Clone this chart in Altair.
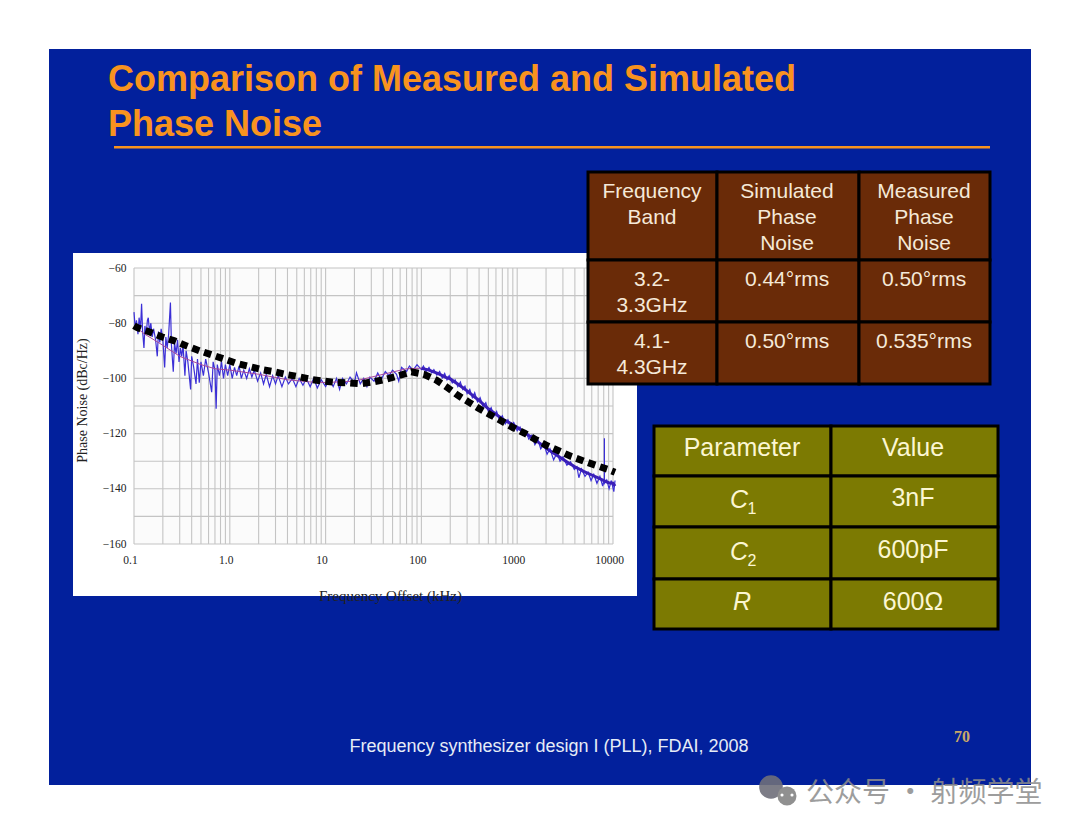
import altair as alt
import pandas as pd

# ---------- data ----------
grid_freq = [m * 10 ** e for e in range(-1, 4) for m in range(1, 10)] + [10000]
grid_db = [-60, -70, -80, -90, -100, -110, -120, -130, -140, -150, -160]
tick_freq = [0.1, 1, 10, 100, 1000, 10000]
tick_text = ["0.1", "1.0", "10", "100", "1000", "10000"]

sim_freq = [0.1, 0.108, 0.146, 0.197, 0.265, 0.358, 0.483, 0.651, 0.879, 1.19, 1.6, 2.16, 2.91, 3.93, 5.3, 7.15, 9.65,
            13, 17.6, 23.7, 32, 43.1, 58.2, 78.5, 106, 143, 185, 237, 309, 403, 525, 700, 912, 1202, 1585, 2089,
            2786, 3673, 4977, 6607, 8913, 10500]
sim_db = [-80.9, -81.6, -83.2, -85, -86.4, -88.3, -90, -91.5, -93, -94.6, -95.7, -96.8, -97.6, -98.6, -99.4, -100.4, -101,
          -101.5, -101.6, -101.9, -101.2, -100.3, -99, -97.6, -98.5, -100.6, -103.2, -106, -108.5, -111, -113.2, -115.6,
          -117.9, -119.9, -122.3, -124.5, -126.4, -128.3, -130, -131.5, -133, -134]

measured = [
    (0.100, -76), (0.103, -82), (0.106, -79), (0.110, -84), (0.113, -78), (0.117, -82), (0.120, -73), (0.123, -83),
    (0.127, -89), (0.130, -81), (0.134, -84), (0.138, -79), (0.141, -78), (0.145, -83), (0.150, -80), (0.155, -85),
    (0.160, -82), (0.168, -86), (0.175, -92), (0.180, -83), (0.186, -87), (0.192, -82), (0.200, -86), (0.209, -96),
    (0.215, -85), (0.222, -89), (0.230, -84), (0.240, -72.5), (0.246, -88), (0.257, -97.6), (0.265, -87), (0.275, -91),
    (0.285, -86), (0.295, -94), (0.305, -89), (0.315, -92), (0.325, -88), (0.340, -99), (0.350, -90), (0.365, -94),
    (0.390, -104), (0.400, -92), (0.420, -96), (0.444, -102), (0.460, -93), (0.480, -101.6), (0.500, -94), (0.530, -99),
    (0.560, -93), (0.600, -98), (0.647, -105), (0.670, -94), (0.700, -97), (0.720, -111), (0.740, -95), (0.780, -99),
    (0.820, -94), (0.860, -100), (0.900, -95), (0.950, -99), (1.00, -95), (1.06, -100), (1.12, -96), (1.18, -99),
    (1.25, -95.5), (1.32, -100), (1.40, -97), (1.5, -100), (1.6, -96.5), (1.7, -99.5), (1.8, -97), (1.95, -101),
    (2.1, -98), (2.25, -102), (2.4, -98.5), (2.6, -103), (2.8, -99), (3.0, -102), (3.2, -99), (3.5, -103), (3.8, -99.5),
    (4.1, -102), (4.5, -100), (4.9, -103), (5.3, -100), (5.8, -102.5), (6.3, -100), (6.9, -103), (7.5, -100), (8.2, -103.5),
    (9, -100.5), (10, -103), (11, -100.5), (12, -103), (13, -100), (14, -104), (15, -100), (16.5, -102), (18, -99.5),
    (20, -101.5), (21, -98), (23, -102), (25, -100), (27, -103), (29, -99.5), (32, -101), (35, -98), (38, -100.5),
    (42, -97.5), (46, -99), (50, -97), (55, -98.5), (58, -101), (62, -96), (70, -97.5), (75, -95.5), (82, -97), (90, -95),
    (100, -96.8), (105, -95.5), (112, -97.5), (120, -96), (128, -98), (135, -96.8), (145, -98.8), (155, -97.5), (165, -99.8),
    (175, -98.2), (185, -100.5), (195, -99), (210, -101.6), (225, -100.5), (240, -103), (255, -101.3), (270, -104),
    (285, -102.8), (300, -105.5), (320, -104), (340, -107), (360, -105.2), (385, -108.5), (410, -107), (440, -110.2),
    (470, -108.8), (500, -112), (535, -110.6), (570, -113.8), (610, -112), (650, -115), (700, -113.5), (750, -116.5),
    (800, -115), (860, -117.5), (920, -116), (1000, -119), (1070, -117.6), (1150, -120.5), (1230, -119), (1320, -122),
    (1420, -120.6), (1530, -124), (1640, -122), (1760, -125.5), (1900, -123.8), (2050, -127.5), (2200, -125.5), (2400, -129.5),
    (2600, -127), (2800, -130), (3000, -128.5), (3300, -131.5), (3600, -130.2), (3950, -133), (4200, -132), (4400, -136),
    (4700, -132.8), (5100, -135.5), (5500, -134), (5900, -137), (6300, -134.8), (6800, -138), (7300, -135.5), (7800, -139),
    (8128, -136), (8128, -121.7), (8140, -138), (8600, -136.8), (9100, -140), (9600, -137), (10200, -141), (10500, -137),
]
trend_freq = [0.1, 0.13, 0.2, 0.3, 0.5, 0.7, 1, 2, 4, 7, 10, 20, 40, 70, 100]
trend_db = [-81, -84, -88, -92, -95, -96.5, -97, -98.5, -100.5, -101.3, -101.5, -101, -98.5, -96.5, -96.3]
band_freq = [100, 120, 150, 180, 200, 250, 300, 350, 400, 500, 600, 700, 850, 1000, 1200, 1500, 1800, 2100, 2500, 3000,
             3500, 4000, 5000, 6000, 7000, 8000, 9000, 10000, 10500]
band_db = [-96.3, -97, -98.3, -99.6, -100.2, -102.5, -104.5, -106.4, -108, -111, -113, -114.7, -116.3, -117.7, -119.7, -122,
           -124, -125.8, -127.5, -129.3, -130.8, -132, -133.8, -135, -136, -137, -137.8, -138, -139]

TITLE = ["Comparison of Measured and Simulated", "Phase Noise"]
FOOTER = "Frequency synthesizer design I (PLL), FDAI, 2008"
PAGE_NO = "70"
WATERMARK = "公众号 · 射频学堂"
X_TITLE = "Frequency Offset (kHz)"
Y_TITLE = "Phase Noise (dBc/Hz)"

# ---------- layout ----------
OX, OY = 134, 268      # page position of the plot origin
W, H = 479, 276
SANS = "Liberation Sans"
SERIF = "Liberation Serif"
ONE = alt.Data(values=[{"k": 1}])


def px(v):
    return v - OX


def py(v):
    return v - OY


def rect(x0, y0, x1, y1, fill, **kw):
    return alt.Chart(ONE).mark_rect(fill=fill, **kw).encode(
        x=alt.value(px(x0)), x2=alt.value(px(x1)), y=alt.value(py(y0)), y2=alt.value(py(y1)))


def label(s, x, y, size, color, font=SANS, align="center", **kw):
    return alt.Chart(ONE).mark_text(fontSize=size, color=color, font=font, align=align, baseline="alphabetic", **kw).encode(
        x=alt.value(px(x)), y=alt.value(py(y)), text=alt.value(s))


def dot(x, y, size, color, opacity=1.0):
    return alt.Chart(ONE).mark_point(filled=True, shape="circle", size=size, color=color, opacity=opacity).encode(
        x=alt.value(px(x)), y=alt.value(py(y)))


SLIDE = "#02209c"
ORANGE = "#f8931f"
BROWN = "#6a2b08"
OLIVE = "#7c7a02"
CREAM1 = "#f5e9d8"
CREAM2 = "#fbf6d2"

xscale = alt.Scale(type="log", domain=[0.1, 10000], nice=False)
yscale = alt.Scale(domain=[-160, -60], nice=False)
label_expr = " : ".join(f"datum.value == {f} ? '{t}'" for f, t in zip(tick_freq, tick_text)) + " : ''"
xaxis = alt.Axis(values=tick_freq, labelExpr=label_expr, grid=False, domain=False, ticks=False, zindex=1,
                 labelFont=SERIF, labelFontSize=11.5, labelColor="#222222", labelPadding=10, labelOffset=-4,
                 labelFlush=False, labelOverlap=False, title=X_TITLE, titleFont=SERIF, titleFontSize=15,
                 titleFontWeight="normal", titleColor="#222222", titleX=256, titleY=44)
yaxis = alt.Axis(values=grid_db, grid=False, domain=False, ticks=False, zindex=1,
                 labelFont=SERIF, labelFontSize=11.5, labelColor="#222222", labelPadding=8,
                 title=Y_TITLE, titleFont=SERIF, titleFontSize=14, titleFontWeight="normal", titleColor="#222222",
                 titleX=-45, titleY=132)

# ---------- layers ----------
layers = [
    rect(49, 49, 1031, 785, SLIDE),
    label(TITLE[0], 108, 91, 36, ORANGE, align="left", fontWeight="bold"),
    label(TITLE[1], 108, 136, 36, ORANGE, align="left", fontWeight="bold"),
    rect(114, 146, 990, 148.5, ORANGE),
    rect(73, 253, 637, 596, "#ffffff"),
    rect(OX, OY, OX + W, OY + H, "#fbfbfb"),
]

grid_v = alt.Chart(pd.DataFrame({"f": grid_freq})).mark_rule(color="#c4c4c4", strokeWidth=1.1).encode(
    x=alt.X("f:Q", scale=xscale, axis=xaxis))
grid_h = alt.Chart(pd.DataFrame({"d": grid_db})).mark_rule(color="#c4c4c4", strokeWidth=1.1).encode(
    y=alt.Y("d:Q", scale=yscale, axis=yaxis))
layers += [grid_v, grid_h]

meas_df = pd.DataFrame(measured, columns=["f", "d"]).reset_index()
meas = alt.Chart(meas_df).mark_line(color="#3b2fd6", strokeWidth=1.2).encode(
    x=alt.X("f:Q", scale=xscale), y=alt.Y("d:Q", scale=yscale), order="index:Q")
band = alt.Chart(pd.DataFrame({"f": band_freq, "d": band_db})).mark_line(color="#3a1fb8", strokeWidth=3).encode(
    x=alt.X("f:Q", scale=xscale), y=alt.Y("d:Q", scale=yscale))
trend = alt.Chart(pd.DataFrame({"f": trend_freq, "d": trend_db})).mark_line(color="#a8489a", strokeWidth=1).encode(
    x=alt.X("f:Q", scale=xscale), y=alt.Y("d:Q", scale=yscale))
sim = alt.Chart(pd.DataFrame({"f": sim_freq, "d": sim_db})).mark_line(
    color="#000000", strokeWidth=7, strokeDash=[7.5, 5]).encode(
    x=alt.X("f:Q", scale=xscale), y=alt.Y("d:Q", scale=yscale))
layers += [meas, band, trend, sim]

# table 1
for (x0, x1) in [(588, 717), (717, 859), (859, 990)]:
    for (y0, y1) in [(172, 260), (260, 322), (322, 384)]:
        layers.append(rect(x0, y0, x1, y1, BROWN, stroke="#000000", strokeWidth=3))
table1 = [
    ("Frequency", 652, 198), ("Band", 652, 224),
    ("Simulated", 787, 198), ("Phase", 787, 224), ("Noise", 787, 250),
    ("Measured", 924, 198), ("Phase", 924, 224), ("Noise", 924, 250),
    ("3.2-", 652, 286), ("3.3GHz", 652, 312), ("0.44°rms", 787, 286), ("0.50°rms", 924, 286),
    ("4.1-", 652, 348), ("4.3GHz", 652, 374), ("0.50°rms", 787, 348), ("0.535°rms", 924, 348),
]
layers += [label(s, x, y, 21, CREAM1) for s, x, y in table1]

# table 2
for (x0, x1) in [(654, 831), (831, 998)]:
    for (y0, y1) in [(426, 476), (476, 527), (527, 579), (579, 629)]:
        layers.append(rect(x0, y0, x1, y1, OLIVE, stroke="#000000", strokeWidth=3))
table2 = [("Parameter", 742, 456), ("Value", 913, 456), ("3nF", 913, 506), ("600pF", 913, 558), ("600Ω", 913, 610)]
layers += [label(s, x, y, 25, CREAM2) for s, x, y in table2]
layers += [
    label("C", 739, 508, 25, CREAM2, fontStyle="italic"),
    label("1", 752, 514, 16, CREAM2),
    label("C", 739, 560, 25, CREAM2, fontStyle="italic"),
    label("2", 752, 566, 16, CREAM2),
    label("R", 742, 610, 25, CREAM2, fontStyle="italic"),
]

# footer and watermark
layers += [
    label(FOOTER, 549, 752, 18, "#e6ecf6"),
    label(PAGE_NO, 962, 742, 16, "#c9a868", font=SERIF, fontWeight="bold"),
    dot(771, 787, 560, "#6f6f7a", 0.9),
    dot(787, 796, 360, "#909090"),
    dot(782, 795, 10, "#ffffff"),
    dot(792, 795, 10, "#ffffff"),
    label(WATERMARK, 806, 802, 28, "#8c8c8c", font="Noto Sans CJK SC", align="left", opacity=0.85),
]

chart = alt.layer(*layers).properties(
    width=W, height=H,
    padding={"left": OX - 8, "top": OY - 8, "right": 1072 - OX - W, "bottom": 826 - OY - H},
    autosize=alt.AutoSizeParams(type="none"),
    background="#ffffff",
).configure_view(stroke=None)

chart.save("out.html", embed_options={"renderer": "svg", "actions": False})
